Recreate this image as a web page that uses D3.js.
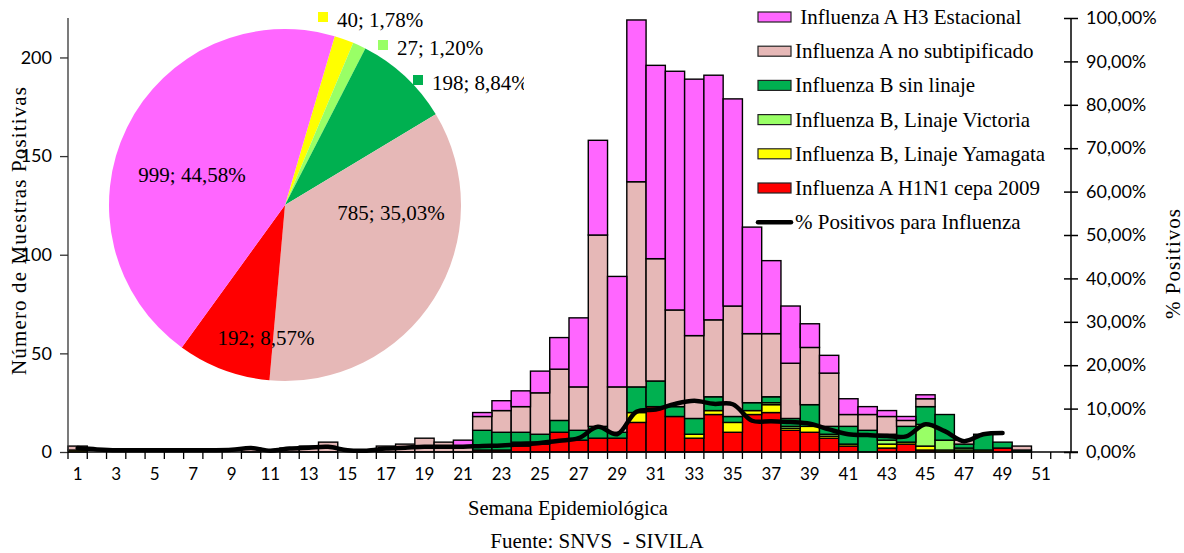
<!DOCTYPE html>
<html>
<head>
<meta charset="utf-8">
<script src="https://cdn.jsdelivr.net/npm/d3@7"></script>
<style>
  body { margin: 0; background: #fff; }
  svg { display: block; }
  .serif { font-family: "Liberation Serif", "Times New Roman", serif; }
  .sans { font-family: Lato, "Liberation Sans", sans-serif; }
</style>
</head>
<body>
<svg id="chart" width="1184" height="553"></svg>
<script>
// semanas epidemiológicas
const semanas = [1,2,3,4,5,6,7,8,9,10,11,12,13,14,15,16,17,18,19,20,21,22,23,24,25,26,
                 27,28,29,30,31,32,33,34,35,36,37,38,39,40,41,42,43,44,45,46,47,48,49,50,51,52];
const etiquetasX = [1,3,5,7,9,11,13,15,17,19,21,23,25,27,29,31,33,35,37,39,41,43,45,47,49,51];

// casos por semana (sem 1 -> 52)
const h1n1 = [0,0,0,0,0,0,0,0,0,0,0,0,0,0,0,0,0,0,0,0,0,1,1,3,4,10,
              6,7,7,15,23,18,7,19,10,19,20,11,10,7,3,0,2,4,1,0,0,0,2,0,0,0];
const yamagata = [1,0,0,0,0,0,0,0,0,0,0,0,0,0,0,0,0,0,0,0,0,0,0,1,1,0,
                  0,0,0,5,0,0,2,2,5,2,4,1,3,1,1,0,2,1,2,1,1,1,0,0,0,0];
const victoria = [0,0,0,0,0,0,0,0,0,0,0,0,0,0,0,0,0,0,0,0,0,0,0,1,0,0,
                  0,0,0,0,0,0,0,0,0,0,1,1,0,1,0,0,2,0,11,5,1,0,0,0,0,0];
const bSinLinaje = [0,0,0,0,0,0,0,0,0,0,0,0,0,0,0,0,0,0,0,0,0,10,9,5,4,6,
                    5,6,3,13,13,5,8,7,3,4,3,4,11,4,9,11,3,8,9,13,2,8,3,1,0,0];
const noSubtip = [2,0,0,0,0,0,0,0,0,2,0,2,3,5,0,0,3,4,7,5,3,7,11,13,21,26,
                  22,97,23,104,62,49,42,39,56,35,32,28,29,27,6,8,9,3,4,0,2,0,0,2,0,0];
const h3 = [0,0,0,0,0,0,0,0,0,0,0,0,0,0,0,0,0,0,0,0,3,2,5,8,11,16,
            35,48,56,82,98,121,130,124,105,54,37,29,12,9,8,4,3,2,2,0,0,0,0,0,0,0];
// % positivos (sem 1 -> 49)
const pctPositivos = [0.9,0.6,0.4,0.4,0.4,0.4,0.4,0.4,0.5,0.9,0.3,0.8,1.0,1.2,0.4,0.3,0.8,1.0,1.2,1.2,
                      1.2,1.4,1.5,1.8,2.1,2.6,3.2,5.8,4.1,9.3,9.8,11.1,11.8,11.1,11.0,7.2,7.1,6.9,6.5,5.2,
                      4.1,3.9,3.7,3.6,6.4,4.8,2.5,4.1,4.4];

// torta
const tortaNombres = ["Yamagata","Victoria","B sin linaje","No subtipificado","H1N1","H3"];
const tortaValores = [40, 27, 198, 785, 192, 999];
const tortaTextos = ["40; 1,78%","27; 1,20%","198; 8,84%","785; 35,03%","192; 8,57%","999; 44,58%"];

const series = [
  {nombre:"Influenza A H1N1 cepa 2009", valores:h1n1, color:"#FF0000"},
  {nombre:"Influenza B, Linaje Yamagata", valores:yamagata, color:"#FFFF00"},
  {nombre:"Influenza B, Linaje Victoria", valores:victoria, color:"#99FF66"},
  {nombre:"Influenza B sin linaje", valores:bSinLinaje, color:"#00B050"},
  {nombre:"Influenza A no subtipificado", valores:noSubtip, color:"#E6B8B7"},
  {nombre:" Influenza A H3 Estacional", valores:h3, color:"#FF66FF"}
];
const colTorta = ["#FFFF00","#99FF66","#00B050","#E6B8B7","#FF0000","#FF66FF"];

const svg = d3.select("#chart");

const x = d3.scaleBand().domain(semanas).range([68, 1070]).padding(0);
const y = d3.scaleLinear().domain([0, 220]).range([452, 18]);
const yPct = d3.scaleLinear().domain([0, 100]).range([452, 18]);

// tabla para apilar
const tabla = semanas.map((s, i) => {
  const fila = {semana: s};
  series.forEach(se => fila[se.nombre] = se.valores[i]);
  return fila;
});
const pila = d3.stack().keys(series.map(s => s.nombre))(tabla);

// barras apiladas
svg.append("g")
  .selectAll("g")
  .data(pila)
  .join("g")
  .attr("fill", (d, i) => series[i].color)
  .selectAll("rect")
  .data(d => d.filter(p => p[1] - p[0] > 0))
  .join("rect")
  .attr("x", d => x(d.data.semana))
  .attr("width", x.bandwidth())
  .attr("y", d => y(d[1]))
  .attr("height", d => y(d[0]) - y(d[1]))
  .attr("stroke", "#000")
  .attr("stroke-width", 1.4);

// eje izquierdo
svg.append("g")
  .attr("class", "sans")
  .attr("transform", "translate(68,0)")
  .call(d3.axisLeft(y).tickValues([0,50,100,150,200]).tickSize(8).tickPadding(8))
  .call(g => g.select(".domain").attr("d", "M0,452V18").attr("stroke", "#333").attr("stroke-width", 1.3))
  .call(g => g.selectAll(".tick line").attr("stroke", "#333").attr("stroke-width", 1.3))
  .call(g => g.selectAll("text").attr("font-size", 18).attr("fill", "#000").attr("font-family", null));

// eje derecho
svg.append("g")
  .attr("class", "sans")
  .attr("transform", "translate(1071,0)")
  .call(d3.axisRight(yPct).tickValues(d3.range(0, 101, 10)).tickSize(7).tickPadding(8)
    .tickFormat(d => d3.format(".2f")(d).replace(".", ",") + "%"))
  .call(g => g.select(".domain").attr("d", "M0,452V18").attr("stroke", "#000").attr("stroke-width", 1.5))
  .call(g => g.selectAll(".tick line").attr("x1", -7).attr("stroke", "#000").attr("stroke-width", 1.5))
  .call(g => g.selectAll("text").attr("font-size", 18).attr("fill", "#000").attr("font-family", null));

// eje x
svg.append("g")
  .attr("class", "sans")
  .attr("transform", "translate(0,452)")
  .call(d3.axisBottom(x).tickValues(etiquetasX).tickSize(0).tickPadding(16))
  .call(g => g.select(".domain").attr("d", "M68,0H1078").attr("stroke", "#000").attr("stroke-width", 1.5))
  .call(g => g.selectAll("text").attr("font-size", 17).attr("fill", "#000").attr("font-family", null));

// marcas del eje x entre categorias
svg.append("g")
  .selectAll("line")
  .data(semanas)
  .join("line")
  .attr("x1", d => x(d) + x.bandwidth())
  .attr("x2", d => x(d) + x.bandwidth())
  .attr("y1", 452).attr("y2", 459)
  .attr("stroke", "#000").attr("stroke-width", 1.3);
svg.append("line").attr("x1", 68).attr("x2", 68).attr("y1", 452).attr("y2", 459)
  .attr("stroke", "#000").attr("stroke-width", 1.3);

// linea de % positivos
const linea = d3.line()
  .x((d, i) => x(semanas[i]) + x.bandwidth() / 2)
  .y(d => yPct(d))
  .curve(d3.curveCatmullRom.alpha(0.5));
svg.append("path")
  .datum(pctPositivos)
  .attr("d", linea)
  .attr("fill", "none")
  .attr("stroke", "#000")
  .attr("stroke-width", 4.5)
  .attr("stroke-linejoin", "round")
  .attr("stroke-linecap", "round");

// titulos
svg.append("text").attr("class", "serif")
  .attr("transform", "translate(26,231) rotate(-90)")
  .attr("text-anchor", "middle").attr("font-size", 21)
  .attr("textLength", 288).attr("lengthAdjust", "spacing")
  .text("Número de Muestras Positivas");
svg.append("text").attr("class", "serif")
  .attr("transform", "translate(1180,264) rotate(-90)")
  .attr("text-anchor", "middle").attr("font-size", 21)
  .attr("textLength", 110).attr("lengthAdjust", "spacing")
  .text("% Positivos");
svg.append("text").attr("class", "serif")
  .attr("x", 568).attr("y", 515)
  .attr("text-anchor", "middle").attr("font-size", 20.5)
  .text("Semana Epidemiológica");
svg.append("text").attr("class", "serif")
  .attr("x", 597).attr("y", 548)
  .attr("text-anchor", "middle").attr("font-size", 21)
  .attr("xml:space", "preserve")
  .text("Fuente: SNVS  - SIVILA");

// leyenda
const itemsLeyenda = series.slice().reverse();
const leyenda = svg.append("g").attr("class", "serif");
itemsLeyenda.forEach((s, i) => {
  const yy = 17 + i * 34.2;
  leyenda.append("rect")
    .attr("x", 758).attr("y", yy - 5).attr("width", 33).attr("height", 10)
    .attr("fill", s.color).attr("stroke", "#222").attr("stroke-width", 1.2);
  leyenda.append("text")
    .attr("x", 795).attr("y", yy + 7)
    .attr("font-size", 21)
    .attr("xml:space", "preserve")
    .text(s.nombre);
});
const yLinea = 17 + 6 * 34.2;
leyenda.append("line")
  .attr("x1", 758).attr("x2", 791).attr("y1", yLinea).attr("y2", yLinea)
  .attr("stroke", "#000").attr("stroke-width", 4.5).attr("stroke-linecap", "round");
leyenda.append("text")
  .attr("x", 795).attr("y", yLinea + 7)
  .attr("font-size", 21)
  .text("% Positivos para Influenza");

// torta
svg.append("defs").append("clipPath").attr("id", "recorte")
  .append("rect").attr("x", 0).attr("y", 0).attr("width", 524).attr("height", 553);
const torta = svg.append("g").attr("clip-path", "url(#recorte)");
const cx = 285, cy = 205, radio = 176;
const inicio = 16.4 * Math.PI / 180;
const arcos = d3.pie().sort(null).value(d => d)
  .startAngle(inicio).endAngle(inicio + 2 * Math.PI)(tortaValores);
const arco = d3.arc().innerRadius(0).outerRadius(radio);
torta.append("g")
  .attr("transform", `translate(${cx},${cy})`)
  .selectAll("path")
  .data(arcos)
  .join("path")
  .attr("d", arco)
  .attr("fill", (d, i) => colTorta[i]);

// etiquetas de la torta
const posEtiquetas = [
  {x: 337, y: 27, marca: true, anchor: "start"},
  {x: 397, y: 55, marca: true, anchor: "start"},
  {x: 432, y: 90, marca: true, anchor: "start"},
  {x: 391, y: 220, marca: false, anchor: "middle"},
  {x: 266, y: 345, marca: false, anchor: "middle"},
  {x: 192, y: 182, marca: false, anchor: "middle"}
];
posEtiquetas.forEach((p, i) => {
  if (p.marca) {
    torta.append("rect")
      .attr("x", p.x - 19).attr("y", p.y - 15).attr("width", 10).attr("height", 10)
      .attr("fill", colTorta[i]);
  }
  torta.append("text").attr("class", "serif")
    .attr("x", p.x).attr("y", p.y)
    .attr("text-anchor", p.anchor)
    .attr("font-size", 21)
    .text(tortaTextos[i]);
});
</script>
</body>
</html>
